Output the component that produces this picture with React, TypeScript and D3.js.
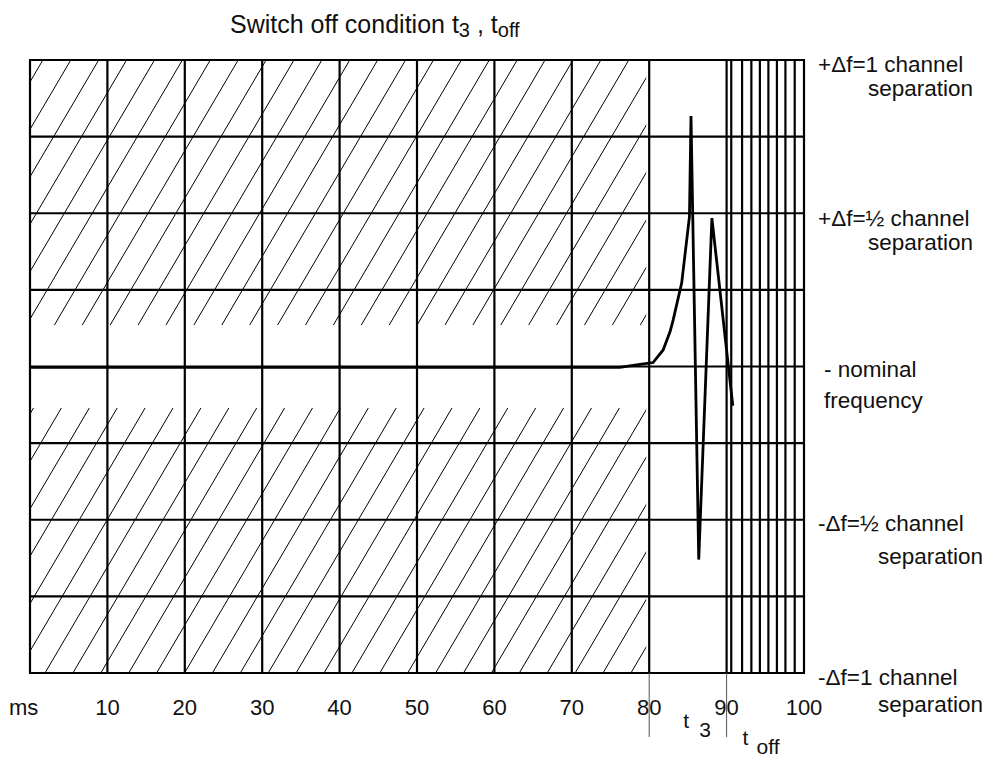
import React from 'react';
import * as d3 from 'd3';

// time axis (ms) and frequency deviation (in channel separations)
const tickValues = [10, 20, 30, 40, 50, 60, 70, 80, 90, 100];
const majorGridMs = [0, 10, 20, 30, 40, 50, 60, 70, 80, 90, 100];
const denseGridMs = [90.6, 92.0, 93.2, 94.3, 95.4, 96.5, 97.6, 98.8];
const levelGrid = [-1, -0.75, -0.5, -0.25, 0, 0.25, 0.5, 0.75, 1];

// measured transient when switching off
const curveMs = [0, 76.2, 78.8, 80.5, 81.8, 82.7, 83.1, 84.2, 85.2, 85.4, 86.4, 88.1, 90.8];
const curveDev = [-0.003, -0.003, 0.007, 0.013, 0.054, 0.114, 0.152, 0.273, 0.489, 0.817, -0.63, 0.484, -0.128];

// forbidden (hatched) zone: before t3, outside +-0.135 channel
const hatchEndMs = 80;
const hatchInnerDev = 0.135;

// right hand labels
const levelValues = [1, 0.5, 0, -0.5, -1];
const levelLine1 = ['+\u0394f=1 channel', '+\u0394f=\u00bd channel', '- nominal', '-\u0394f=\u00bd channel', '-\u0394f=1 channel'];
const levelLine2 = ['separation', 'separation', 'frequency', 'separation', 'separation'];

// markers below the axis
const markerMs = [80, 90];
const markerSub = ['3', 'off'];

const W = 988;
const H = 758;
const FONT = '"Liberation Sans", Arial, Helvetica, sans-serif';

const App = () => {
  const x = d3.scaleLinear().domain([0, 100]).range([30, 804]);
  const y = d3.scaleLinear().domain([-1, 1]).range([673, 60]);

  const line = d3.line<number>()
    .x((_, i) => x(curveMs[i]))
    .y(d => y(d));

  // hatch lines, ~60 degrees, spaced 28px horizontally
  const slope = 1.7;
  const span = (y(-1) - y(1)) / slope;
  const hatch: number[] = d3.range(-15, 30).map(k => 45 + 27.9 * k);

  // layout of the right hand labels
  const l1x = [818, 818, 824, 818, 818];
  const l1dy = [12, 13, 10, 11, 12];
  const l2x = [973, 973, 824, 983, 983];
  const l2anchor = ['end', 'end', 'start', 'end', 'end'];
  const l2dy = [36, 37, 41, 44, 39];

  const markerLabel = [
    { tx: 34, ty: 728, sx: 50, sy: 737 },
    { tx: 16, ty: 745, sx: 30, sy: 754 },
  ];

  return (
    <div style={{ position: 'absolute', left: 0, top: 0 }}>
      <svg width={W} height={H} style={{ display: 'block', background: '#fff' }} fontFamily={FONT}>
        <defs>
          <clipPath id="hatchClip">
            <rect x={x(0)} y={y(1)} width={x(hatchEndMs) - x(0) - 3} height={y(hatchInnerDev) - y(1)} />
            <rect x={x(0)} y={y(-hatchInnerDev)} width={x(hatchEndMs) - x(0) - 3} height={y(-1) - y(-hatchInnerDev)} />
          </clipPath>
        </defs>

        {/* title */}
        <text x={230} y={33} fontSize={25} fill="#111">
          Switch off condition t
          <tspan fontSize={20} dy={4}>3</tspan>
          <tspan dy={-4}> , t</tspan>
          <tspan fontSize={20} dy={4}>off</tspan>
        </text>

        {/* hatching */}
        <g clipPath="url(#hatchClip)" stroke="#000" strokeWidth={1}>
          {hatch.map((hx, i) => (
            <line key={i} x1={hx} y1={y(-1)} x2={hx + span} y2={y(1)} />
          ))}
        </g>

        {/* grid */}
        <g stroke="#000" strokeWidth={2.2}>
          {levelGrid.map(v => (
            <line key={'h' + v} x1={x(0) - 1} x2={x(100) + 1} y1={y(v)} y2={y(v)} />
          ))}
          {majorGridMs.map(m => (
            <line key={'v' + m} x1={x(m)} x2={x(m)} y1={y(1)} y2={y(-1)} />
          ))}
          {denseGridMs.map(m => (
            <line key={'d' + m} x1={x(m)} x2={x(m)} y1={y(1)} y2={y(-1)} />
          ))}
        </g>

        {/* marker extensions */}
        <g stroke="#555" strokeWidth={1}>
          {markerMs.map(m => (
            <line key={'m' + m} x1={x(m)} x2={x(m)} y1={y(-1)} y2={737} />
          ))}
        </g>

        {/* curve */}
        <path d={line(curveDev) || ''} fill="none" stroke="#000" strokeWidth={2.8} strokeLinejoin="miter" />

        {/* x ticks */}
        <g fontSize={22} fill="#111">
          <text x={9} y={715}>ms</text>
          {tickValues.map(t => (
            <text key={t} x={x(t)} y={715} textAnchor="middle">{t}</text>
          ))}
        </g>

        {/* markers t3, toff */}
        <g fontSize={21} fill="#111">
          {markerMs.map((m, i) => (
            <g key={'ml' + m}>
              <text x={x(m) + markerLabel[i].tx} y={markerLabel[i].ty}>t</text>
              <text x={x(m) + markerLabel[i].sx} y={markerLabel[i].sy}>{markerSub[i]}</text>
            </g>
          ))}
        </g>

        {/* level labels */}
        <g fontSize={22.5} fill="#111">
          {levelValues.map((v, i) => (
            <g key={'lv' + i}>
              <text x={l1x[i]} y={y(v) + l1dy[i]}>{levelLine1[i]}</text>
              <text x={l2x[i]} y={y(v) + l2dy[i]} textAnchor={l2anchor[i] as any}>{levelLine2[i]}</text>
            </g>
          ))}
        </g>
      </svg>
    </div>
  );
};

export default App;
